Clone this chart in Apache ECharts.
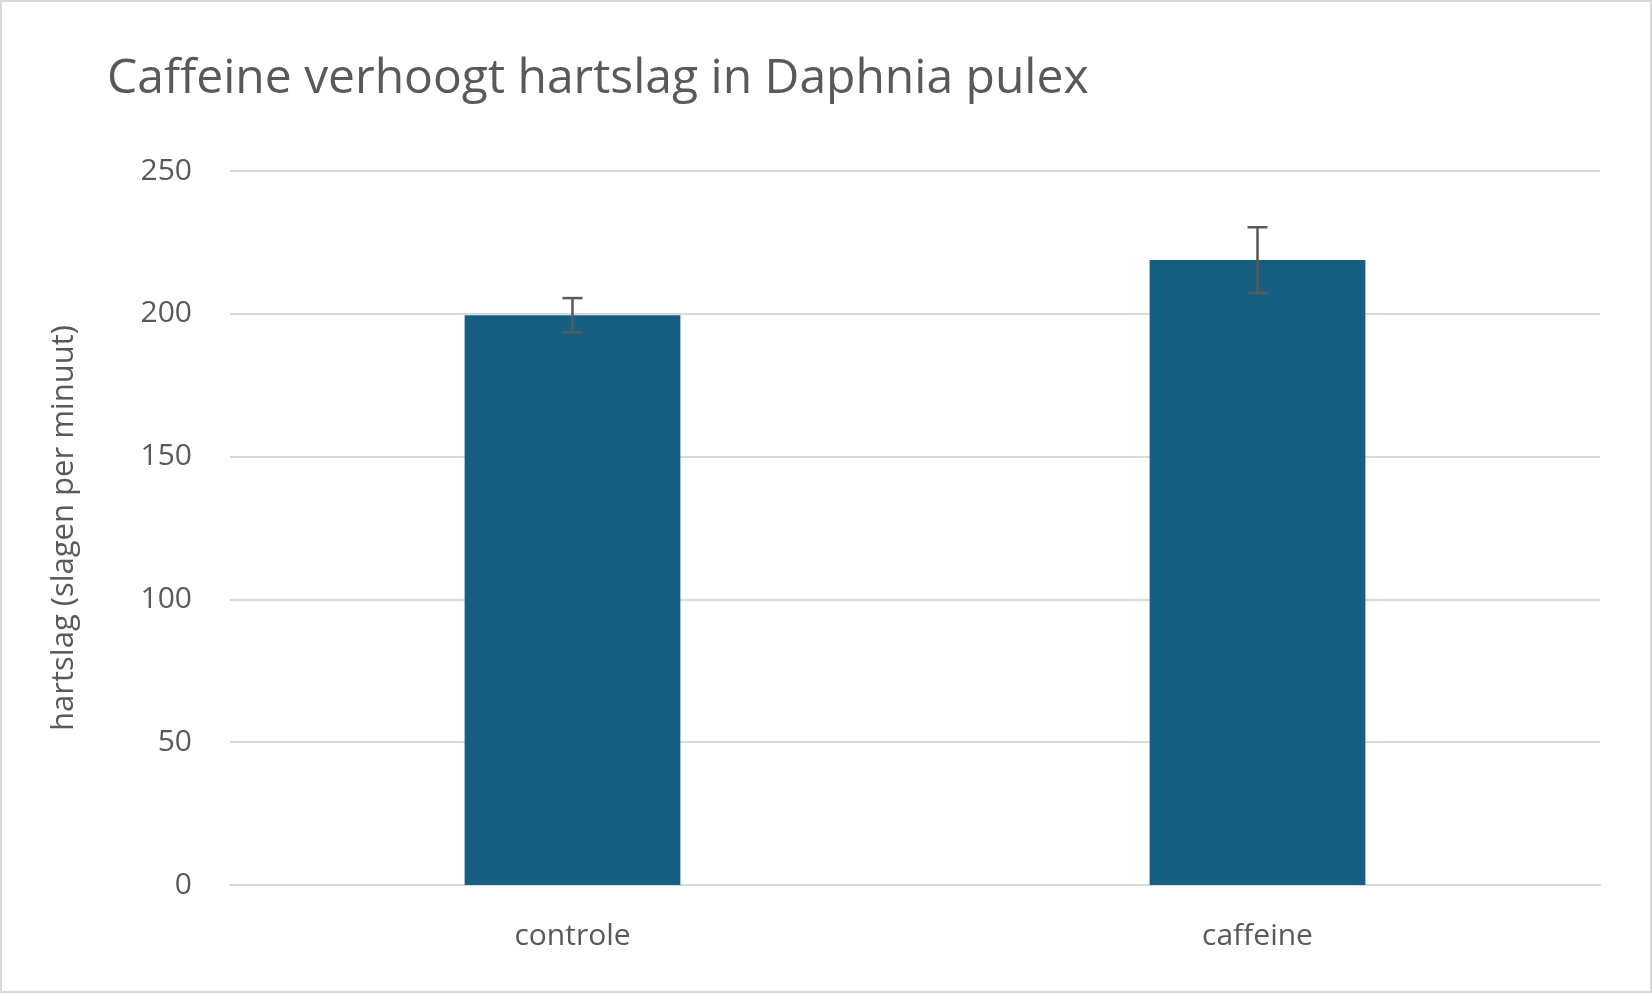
<!DOCTYPE html><html><head><meta charset="utf-8"><script src="https://cdn.jsdelivr.net/npm/echarts@6/dist/echarts.min.js"></script>
<style>html,body{margin:0;padding:0;background:#fff}#c{width:1652px;height:993px;box-sizing:border-box;border:2px solid #d9d9d9}</style></head><body><div id="c"></div><script>
const categories=['controle','caffeine'];
const values=[199.5,218.8];
const errors=[6,11.5];
const yTicks=[0,50,100,150,200,250];
const chart=echarts.init(document.getElementById('c'));
const font='"Open Sans", Lato, sans-serif';
chart.setOption({
 animation:false,
 title:{text:'Caffeine verhoogt hartslag in Daphnia pulex',left:100,top:48,textStyle:{fontFamily:font,fontSize:48,fontWeight:'normal',color:'#595959'}},
 grid:{left:228,right:50,top:169,bottom:106},
 xAxis:{type:'category',data:categories,axisTick:{show:false},axisLine:{lineStyle:{color:'#d9d9d9',width:2}},axisLabel:{fontFamily:font,fontSize:30,color:'#595959',margin:36}},
 yAxis:{type:'value',min:0,max:250,interval:50,name:'hartslag (slagen per minuut)',nameLocation:'middle',nameGap:150,nameTextStyle:{fontFamily:font,fontSize:31,color:'#595959'},axisLabel:{fontFamily:font,fontSize:30,color:'#595959',margin:38},splitLine:{lineStyle:{color:'#d9d9d9',width:2}},axisLine:{show:false},axisTick:{show:false}},
 series:[{type:'bar',data:values,barWidth:'31.5%',itemStyle:{color:'#175f82'}},
 {type:'custom',data:values.map((v,i)=>[i,v-errors[i],v+errors[i]]),z:10,renderItem:(p,api)=>{
  const lo=api.coord([api.value(0),api.value(1)]),hi=api.coord([api.value(0),api.value(2)]);const w=10;
  const st={stroke:'#595959',lineWidth:2.5};
  return {type:'group',children:[
   {type:'line',shape:{x1:hi[0],y1:hi[1],x2:lo[0],y2:lo[1]},style:st},
   {type:'line',shape:{x1:hi[0]-w,y1:hi[1],x2:hi[0]+w,y2:hi[1]},style:st},
   {type:'line',shape:{x1:lo[0]-w,y1:lo[1],x2:lo[0]+w,y2:lo[1]},style:st}]};
 }}]
});
</script></body></html>
